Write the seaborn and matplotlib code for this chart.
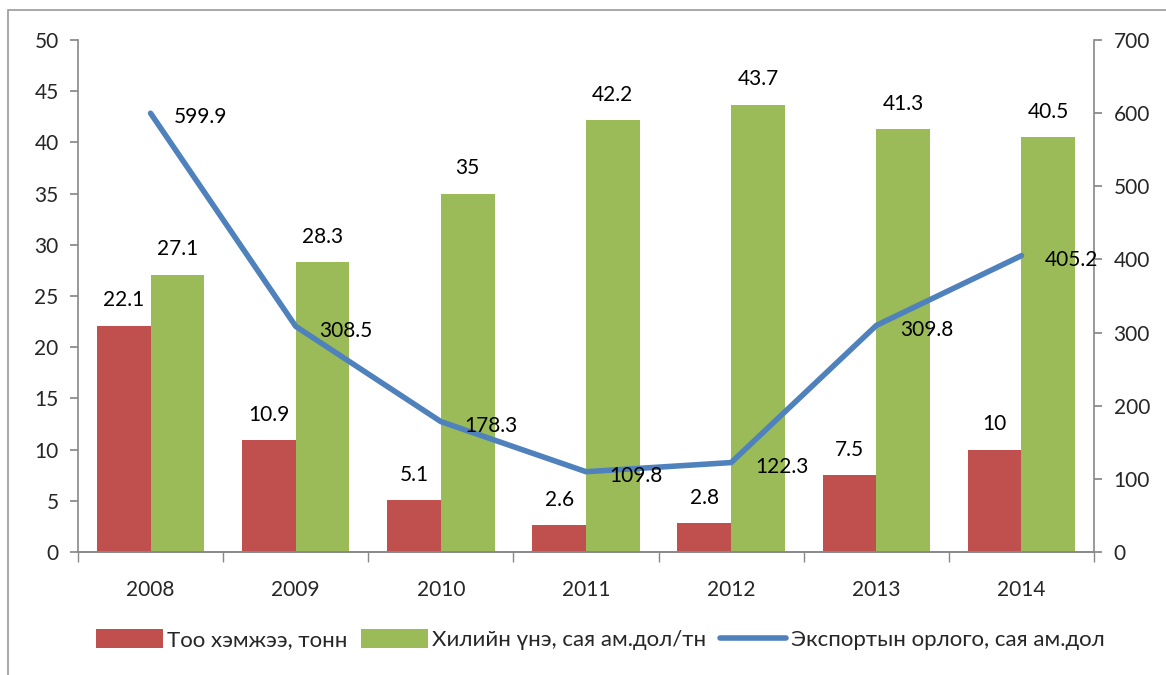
import pandas as pd
import numpy as np
import matplotlib.pyplot as plt
import seaborn as sns
from matplotlib.patches import Rectangle

# Données du graphique
years = ['2008', '2009', '2010', '2011', '2012', '2013', '2014']
quantity = [22.1, 10.9, 5.1, 2.6, 2.8, 7.5, 10]
price = [27.1, 28.3, 35, 42.2, 43.7, 41.3, 40.5]
export = [599.9, 308.5, 178.3, 109.8, 122.3, 309.8, 405.2]

label_q = 'Тоо хэмжээ, тонн'
label_p = 'Хилийн үнэ, сая ам.дол/тн'
label_e = 'Экспортын орлого, сая ам.дол'

red = '#C0504D'
green = '#9BBB59'
blue = '#4F81BD'
grey = '#888888'
fs = 15

sns.set_theme(style='white')
plt.rcParams['font.family'] = ['Lato', 'DejaVu Sans']

df = pd.DataFrame({
    'year': years * 2,
    'value': quantity + price,
    'series': [label_q] * len(years) + [label_p] * len(years),
})

fig = plt.figure(figsize=(11.66, 6.75), dpi=100)
ax = fig.add_axes([0.0669, 0.1822, 0.8714, 0.7585])

sns.barplot(data=df, x='year', y='value', hue='series', palette=[red, green],
            width=0.74, saturation=1, linewidth=0, ax=ax, errorbar=None)

ax.set_ylim(0, 50)
ax.set_yticks(np.arange(0, 51, 5))
ax.set_xlim(-0.5, len(years) - 0.5)
ax.set_xlabel('')
ax.set_ylabel('')

for cont in ax.containers:
    ax.bar_label(cont, labels=[f'{v:g}' for v in cont.datavalues],
                 padding=11, fontsize=fs, color='black')

ax2 = ax.twinx()
xpos = np.arange(len(years))
sns.lineplot(x=xpos, y=export, color=blue, linewidth=4, ax=ax2, label=label_e)
ax2.set_ylim(0, 700)
ax2.set_yticks(np.arange(0, 701, 100))
for x, v in zip(xpos, export):
    ax2.annotate(f'{v:g}', (x, v), xytext=(17, -3), textcoords='offset points',
                 ha='left', va='center', fontsize=fs, color='black')

# Axes et graduations
for a in (ax, ax2):
    a.spines['top'].set_visible(False)
    for s in ('left', 'right', 'bottom'):
        a.spines[s].set_color(grey)
        a.spines[s].set_linewidth(1.2)
ax.spines['right'].set_visible(False)
ax2.spines['left'].set_visible(False)

ax.tick_params(axis='y', direction='out', length=6, color=grey, labelsize=fs,
               left=True, pad=8)
ax2.tick_params(axis='y', direction='out', length=6, color=grey, labelsize=fs,
                right=True, pad=8)
ax.set_xticks(np.arange(len(years)))
ax.set_xticklabels(years)
ax.set_xticks(np.arange(-0.5, len(years)), minor=True)
ax.tick_params(axis='x', which='major', length=0, labelsize=fs, pad=20)
ax.tick_params(axis='x', which='minor', direction='out', length=7, color=grey,
               bottom=True)

# Légende
h1, l1 = ax.get_legend_handles_labels()
h2, l2 = ax2.get_legend_handles_labels()
ax.get_legend().remove()
ax2.get_legend().remove()
fig.legend(h1 + h2, l1 + l2, loc='center', bbox_to_anchor=(0.515, 0.052), ncol=3,
           frameon=False, fontsize=16, handlelength=3.0, handleheight=0.9,
           handletextpad=0.2, columnspacing=0.6)

# Cadre du graphique
fig.patches.append(Rectangle((8 / 1166, -0.1), 1.2, 1 - 10 / 675 + 0.1,
                             transform=fig.transFigure, fill=False,
                             edgecolor='#999999', linewidth=1.2))

fig.savefig('out.png', dpi=100)
